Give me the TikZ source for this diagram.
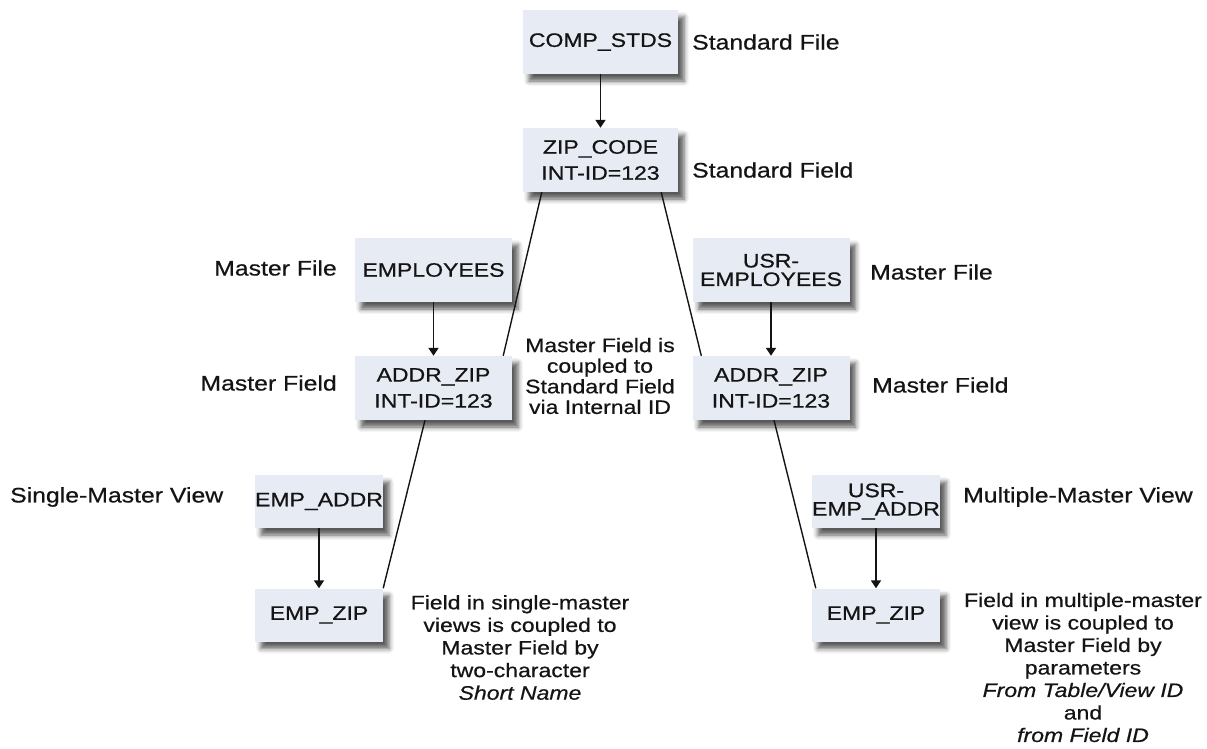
\documentclass[tikz,border=0pt]{standalone}
\usepackage{fontspec}
\setmainfont{Liberation Sans}[FakeStretch=1.18,FakeBold=0.6]
\usetikzlibrary{shadows.blur,arrows.meta,calc}
\definecolor{boxfill}{RGB}{231,235,243}
\definecolor{ink}{RGB}{20,20,20}
\tikzset{
  box/.style={fill=boxfill, draw=none, inner sep=0pt, align=center, text=ink,
    font=\fontsize{19.5}{26}\selectfont,
    blur shadow={shadow xshift=6pt, shadow yshift=-7pt, shadow blur radius=5pt, shadow opacity=65}},
  bigbox/.style={box, minimum width=155pt, minimum height=64pt},
  midbox/.style={box, minimum width=157pt, minimum height=64pt},
  smallbox/.style={box, minimum width=128pt, minimum height=53pt},
  lbl/.style={inner sep=0pt, text=ink, font=\fontsize{21}{24}\selectfont},
  desc/.style={inner sep=0pt, text=ink, align=center},
  arr/.style={draw=ink, line width=1.8pt, -{Triangle[length=8pt,width=10pt]}},
  link/.style={draw=ink, line width=1.4pt}
}
\begin{document}
\begin{tikzpicture}[x=1pt,y=-1pt]
\useasboundingbox (0,0) rectangle (1207,748);
% boxes
\node[bigbox] (comp) at (600.5,42) {COMP\_STDS};
\node[bigbox] (zip) at (600.5,160) {ZIP\_CODE\\INT-ID=123};
\node[midbox] (emp) at (433.5,270) {EMPLOYEES};
\node[midbox] (addr) at (433.5,388) {ADDR\_ZIP\\INT-ID=123};
\node[midbox, font=\fontsize{19.5}{18.5}\selectfont] (usremp) at (771,270) {USR-\\EMPLOYEES};
\node[midbox] (addrr) at (771,388) {ADDR\_ZIP\\INT-ID=123};
\node[smallbox] (empaddr) at (319,501.5) {EMP\_ADDR};
\node[smallbox] (empzip) at (319,615) {EMP\_ZIP};
\node[smallbox, font=\fontsize{19.5}{18.5}\selectfont] (usrempaddr) at (876,501.5) {USR-\\EMP\_ADDR};
\node[smallbox] (empzipr) at (876,615) {EMP\_ZIP};
% labels
\node[lbl, anchor=west] (lsf) at (692,42) {Standard File};
\node[lbl, anchor=west] (lsfd) at (692,170) {Standard Field};
\node[lbl, anchor=east] (lmf) at (337,268) {Master File};
\node[lbl, anchor=east] (lmfd) at (337,383) {Master Field};
\node[lbl, anchor=west] (rmf) at (870,272) {Master File};
\node[lbl, anchor=west] (rmfd) at (872,385) {Master Field};
\node[lbl, anchor=west] (smv) at (10,497) {Single-Master View};
\node[lbl, anchor=west] (mmv) at (963,497) {Multiple-Master View};
% descriptions
\node[desc, font=\fontsize{19.5}{20.6}\selectfont] (dcoup) at (600,376)
  {Master Field is\\coupled to\\Standard Field\\via Internal ID};
\node[desc, font=\fontsize{19.5}{22.6}\selectfont] (dsingle) at (520,647.5)
  {Field in single-master\\views is coupled to\\Master Field by\\two-character\\\textit{Short Name}};
\node[desc, font=\fontsize{19.5}{22.5}\selectfont] (dmulti) at (1083,667.5)
  {Field in multiple-master\\view is coupled to\\Master Field by\\parameters\\\textit{From Table/View ID}\\and\\\textit{from Field ID}};
% arrows
\draw[arr] (comp) -- (zip);
\draw[arr] (emp) -- (addr);
\draw[arr] (usremp) -- (addrr);
\draw[arr] (empaddr) -- (empzip);
\draw[arr] (usrempaddr) -- (empzipr);
% coupling lines
\draw[link] ($(zip.south west)+(19,0)$) -- ($(addr.north east)+(-9,0)$);
\draw[link] ($(zip.south east)+(-17,0)$) -- ($(addrr.north west)+(9,0)$);
\draw[link] ($(addr.south)+(-8.5,0)$) -- (empzip.north east);
\draw[link] ($(addrr.south)+(3,0)$) -- ($(empzipr.north west)+(4,0)$);
\end{tikzpicture}
\end{document}
